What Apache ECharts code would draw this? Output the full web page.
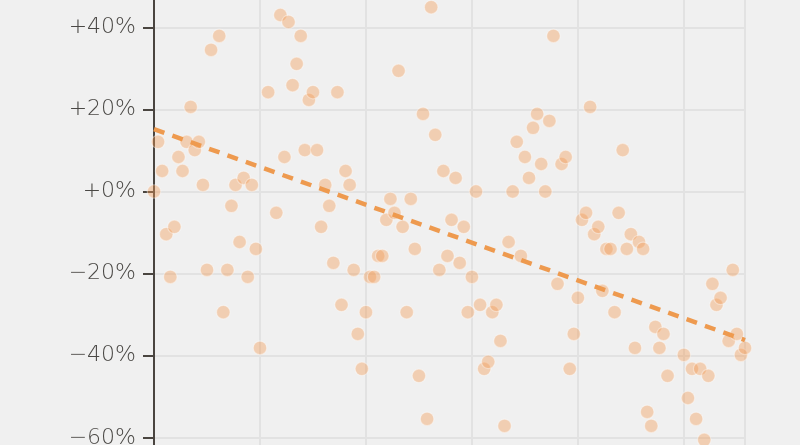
<!DOCTYPE html>
<html>
<head>
<meta charset="utf-8">
<script src="https://cdn.jsdelivr.net/npm/echarts@6/dist/echarts.min.js"></script>
<style>
html,body{margin:0;padding:0;background:#f0f0f0;}
#chart{width:800px;height:445px;}
</style>
</head>
<body>
<div id="chart"></div>
<script>
// period index (x) and percent change (y)
const periods = [0,1,2,3,4,5,6,7,8,9,10,11,12,13,14,16,17,18,19,20,21,22,23,24,25,26,28,30,31,32,33,34,35,36,37,38,39,40,41,42,43,44,45,46,47,48,49,50,51,52,53,54,55,56,57,58,59,60,61,62,63,64,65,66,67,68,69,70,71,72,73,74,75,76,77,78,79,80,81,82,83,84,85,86,87,88,89,90,91,92,93,94,95,96,97,98,99,100,101,102,103,104,105,106,107,108,109,110,111,112,113,114,115,116,117,118,119,120,121,122,123,124,125,126,130,131,132,133,134,135,136,137,138,139,141,142,143,144,145];
const changes = [0,12.1,5.0,-10.4,-20.8,-8.6,8.4,5.0,12.1,20.6,10.1,12.1,1.6,-19.1,34.5,37.9,-29.4,-19.1,-3.5,1.6,-12.3,3.3,-20.8,1.6,-14.0,-38.1,24.2,-5.2,43.0,8.4,41.3,25.9,31.1,37.9,10.1,22.3,24.2,10.1,-8.6,1.6,-3.5,-17.4,24.2,-27.6,5.0,1.6,-19.1,-34.7,-43.2,-29.4,-20.8,-20.8,-15.7,-15.7,-6.9,-1.8,-5.2,29.4,-8.6,-29.4,-1.8,-14.0,-44.9,18.9,-55.4,44.9,13.8,-19.1,5.0,-15.7,-6.9,3.3,-17.4,-8.6,-29.4,-20.8,0,-27.6,-43.2,-41.5,-29.4,-27.6,-36.4,-57.1,-12.3,0,12.1,-15.7,8.4,3.3,15.5,18.9,6.7,0,17.2,37.9,-22.5,6.7,8.4,-43.2,-34.7,-25.9,-6.9,-5.2,20.6,-10.4,-8.6,-24.2,-14.0,-14.0,-29.4,-5.2,10.1,-14.0,-10.4,-38.1,-12.3,-14.0,-53.7,-57.1,-33.0,-38.1,-34.7,-44.9,-39.8,-50.3,-43.2,-55.4,-43.2,-60.5,-44.9,-22.5,-27.6,-25.9,-36.4,-19.1,-34.7,-39.8,-38.1];
// trend line endpoints
const trendX = [0, 145];
const trendY = [15.2, -36.2];
// y axis range (ticks every 20%)
const yTicks = [-80, -60, -40, -20, 0, 20, 40, 60];

const points = periods.map((p, i) => [p, changes[i]]);
const trend = trendX.map((p, i) => [p, trendY[i]]);

function fmt(v) {
  if (v > 0) return '+' + v + '%';
  if (v === 0) return '+0%';
  return '\u2212' + Math.abs(v) + '%';
}

const chart = echarts.init(document.getElementById('chart'), null, {renderer: 'canvas'});
chart.setOption({
  backgroundColor: '#f0f0f0',
  animation: false,
  grid: {
    left: 154, right: 55, top: -54.8, bottom: -74.9,
    containLabel: false,
    outerBoundsMode: 'none'
  },
  xAxis: {
    type: 'value', min: 0, max: 145, interval: 26,
    axisLine: {show: false},
    axisTick: {show: false},
    axisLabel: {show: false},
    splitLine: {show: true, lineStyle: {color: '#e2e2e2', width: 2}}
  },
  yAxis: {
    type: 'value', min: yTicks[0], max: yTicks[yTicks.length - 1], interval: 20,
    axisLine: {show: true, lineStyle: {color: '#4a4540', width: 2}},
    axisTick: {show: true, length: 11, lineStyle: {color: '#4a4540', width: 2}},
    axisLabel: {
      formatter: fmt, margin: 18,
      color: '#4a4845', fontSize: 22, fontWeight: 200,
      fontFamily: '"DejaVu Sans", sans-serif'
    },
    splitLine: {show: true, lineStyle: {color: '#e2e2e2', width: 2}}
  },
  series: [
    {
      type: 'scatter',
      data: points,
      symbolSize: 13.5,
      itemStyle: {color: '#f39c55', opacity: 0.4, borderColor: '#ffffff', borderWidth: 1.2},
      z: 2
    },
    {
      type: 'line',
      data: trend,
      symbol: 'none',
      lineStyle: {color: '#ee9a4f', width: 4.5, type: [11, 8.5]},
      z: 3
    }
  ]
});
</script>
</body>
</html>
